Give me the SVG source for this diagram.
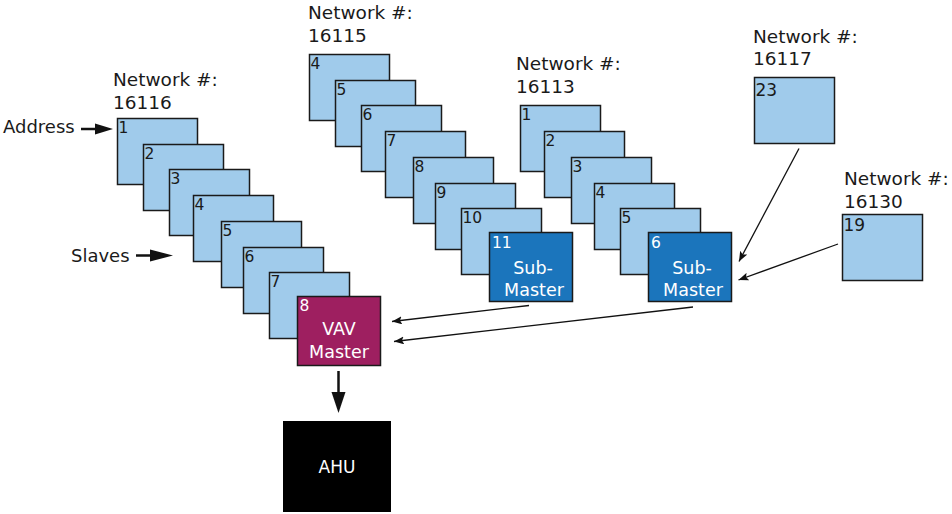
<svg xmlns="http://www.w3.org/2000/svg" width="952" height="514" viewBox="0 0 952 514">
<defs>
<style>
text{font-family:"DejaVu Sans","Verdana",sans-serif;fill:#1a1a1a}
.lbl{font-size:18.5px}
.num{font-size:15.5px}
.big{font-size:17px}
.wnum{font-size:15.5px;fill:#fff}
.wt{font-size:17.5px;fill:#fff;text-anchor:middle}
.slave{fill:#a0cbeb;stroke:#1a1a1a;stroke-width:1.5}
.sub{fill:#1b75bc;stroke:#1a1a1a;stroke-width:1.5}
.vav{fill:#9e1f60;stroke:#1a1a1a;stroke-width:1.5}
.thin{stroke:#111;stroke-width:1.3;fill:none;marker-end:url(#ah)}
.thick{stroke:#111;stroke-width:2.5;fill:none}
</style>
<marker id="ah" markerUnits="userSpaceOnUse" markerWidth="10" markerHeight="8" refX="10" refY="4" orient="auto">
<path d="M0,0 L10,4 L0,8 L2,4 z" fill="#111"/>
</marker>
</defs>
<rect width="952" height="514" fill="#fff"/>

<g id="net16116">
<text class="lbl" x="113" y="86">Network #:</text>
<text class="lbl" x="113" y="108.5">16116</text>
<g id="n16116-1"><rect class="slave" x="117.5" y="118.5" width="80" height="66"/><text class="num" x="118.5" y="132.5">1</text></g>
<g id="n16116-2"><rect class="slave" x="143.5" y="144.5" width="80" height="66"/><text class="num" x="144.5" y="158.5">2</text></g>
<g id="n16116-3"><rect class="slave" x="169.5" y="169.5" width="80" height="66"/><text class="num" x="170.5" y="183.5">3</text></g>
<g id="n16116-4"><rect class="slave" x="193.5" y="195.5" width="80" height="66"/><text class="num" x="194.5" y="209.5">4</text></g>
<g id="n16116-5"><rect class="slave" x="221.5" y="221.5" width="80" height="66"/><text class="num" x="222.5" y="235.5">5</text></g>
<g id="n16116-6"><rect class="slave" x="243.5" y="247.5" width="80" height="66"/><text class="num" x="244.5" y="261.5">6</text></g>
<g id="n16116-7"><rect class="slave" x="269.5" y="272.5" width="80" height="66"/><text class="num" x="270.5" y="286.5">7</text></g>
<g id="n16116-8"><rect class="vav" x="297.5" y="296.5" width="83" height="69"/><text class="wnum" x="299.5" y="311">8</text><text class="wt" x="339" y="335">VAV</text><text class="wt" x="339" y="358">Master</text></g>
</g>

<g id="net16115">
<text class="lbl" x="308" y="18.5">Network #:</text>
<text class="lbl" x="308" y="41.5">16115</text>
<g id="n16115-4"><rect class="slave" x="309.5" y="54.5" width="80" height="66"/><text class="num" x="310.5" y="68.5">4</text></g>
<g id="n16115-5"><rect class="slave" x="335.5" y="80.5" width="80" height="66"/><text class="num" x="336.5" y="94.5">5</text></g>
<g id="n16115-6"><rect class="slave" x="361.5" y="105.5" width="80" height="66"/><text class="num" x="362.5" y="119.5">6</text></g>
<g id="n16115-7"><rect class="slave" x="385.5" y="131.5" width="80" height="66"/><text class="num" x="386.5" y="145.5">7</text></g>
<g id="n16115-8"><rect class="slave" x="413.5" y="157.5" width="80" height="66"/><text class="num" x="414.5" y="171.5">8</text></g>
<g id="n16115-9"><rect class="slave" x="435.5" y="183.5" width="80" height="66"/><text class="num" x="436.5" y="197.5">9</text></g>
<g id="n16115-10"><rect class="slave" x="461.5" y="208.5" width="80" height="66"/><text class="num" x="462.5" y="222.5">10</text></g>
<g id="n16115-11"><rect class="sub" x="489.5" y="232.5" width="83" height="69"/><text class="wnum" x="492" y="247.5">11</text><text class="wt" x="533" y="274">Sub-</text><text class="wt" x="534" y="296">Master</text></g>
</g>

<g id="net16113">
<text class="lbl" x="516" y="70">Network #:</text>
<text class="lbl" x="516" y="93">16113</text>
<g id="n16113-1"><rect class="slave" x="520.5" y="105.5" width="80" height="66"/><text class="num" x="521.5" y="119.5">1</text></g>
<g id="n16113-2"><rect class="slave" x="544.5" y="131.5" width="80" height="66"/><text class="num" x="545.5" y="145.5">2</text></g>
<g id="n16113-3"><rect class="slave" x="571.5" y="157.5" width="80" height="66"/><text class="num" x="572.5" y="171.5">3</text></g>
<g id="n16113-4"><rect class="slave" x="594.5" y="183.5" width="80" height="66"/><text class="num" x="595.5" y="197.5">4</text></g>
<g id="n16113-5"><rect class="slave" x="620.5" y="208.5" width="80" height="66"/><text class="num" x="621.5" y="222.5">5</text></g>
<g id="n16113-6"><rect class="sub" x="648.5" y="232.5" width="83" height="69"/><text class="wnum" x="651" y="247.5">6</text><text class="wt" x="692" y="274">Sub-</text><text class="wt" x="693" y="296">Master</text></g>
</g>

<g id="net16117">
<text class="lbl" x="753" y="42.5">Network #:</text>
<text class="lbl" x="753" y="65">16117</text>
<g id="n16117-23"><rect class="slave" x="754.5" y="77.5" width="80" height="66"/><text class="big" x="755.5" y="95.5">23</text></g>
</g>

<g id="net16130">
<text class="lbl" x="844" y="185">Network #:</text>
<text class="lbl" x="844" y="208">16130</text>
<g id="n16130-19"><rect class="slave" x="842.5" y="214.5" width="80" height="66"/><text class="big" x="843.5" y="231">19</text></g>
</g>

<g id="ahu">
<rect x="283" y="421" width="108" height="91" fill="#000"/>
<text class="wt" x="337" y="473" style="font-size:17px">AHU</text>
</g>

<g id="labels">
<text class="lbl" x="3" y="133" style="font-size:18px">Address</text>
<text class="lbl" x="71" y="261.5" style="font-size:18px">Slaves</text>
</g>

<g id="connectors">
<line class="thick" x1="81" y1="129" x2="97" y2="129"/>
<path d="M95,123.5 L113,129 L95,134.5 z" fill="#111"/>
<line class="thick" x1="136" y1="255.5" x2="152" y2="255.5"/>
<path d="M150,249.5 L173,255.5 L150,261.5 z" fill="#111"/>
<line class="thick" x1="338.5" y1="371" x2="338.5" y2="394"/>
<path d="M331.5,392 L338.5,413 L345.5,392 z" fill="#111"/>
<line class="thin" x1="529" y1="305.5" x2="392" y2="321.5"/>
<line class="thin" x1="693" y1="307" x2="394" y2="341.5"/>
<line class="thin" x1="799" y1="148.5" x2="739" y2="261.5"/>
<line class="thin" x1="838" y1="244" x2="738.5" y2="280"/>
</g>
</svg>
